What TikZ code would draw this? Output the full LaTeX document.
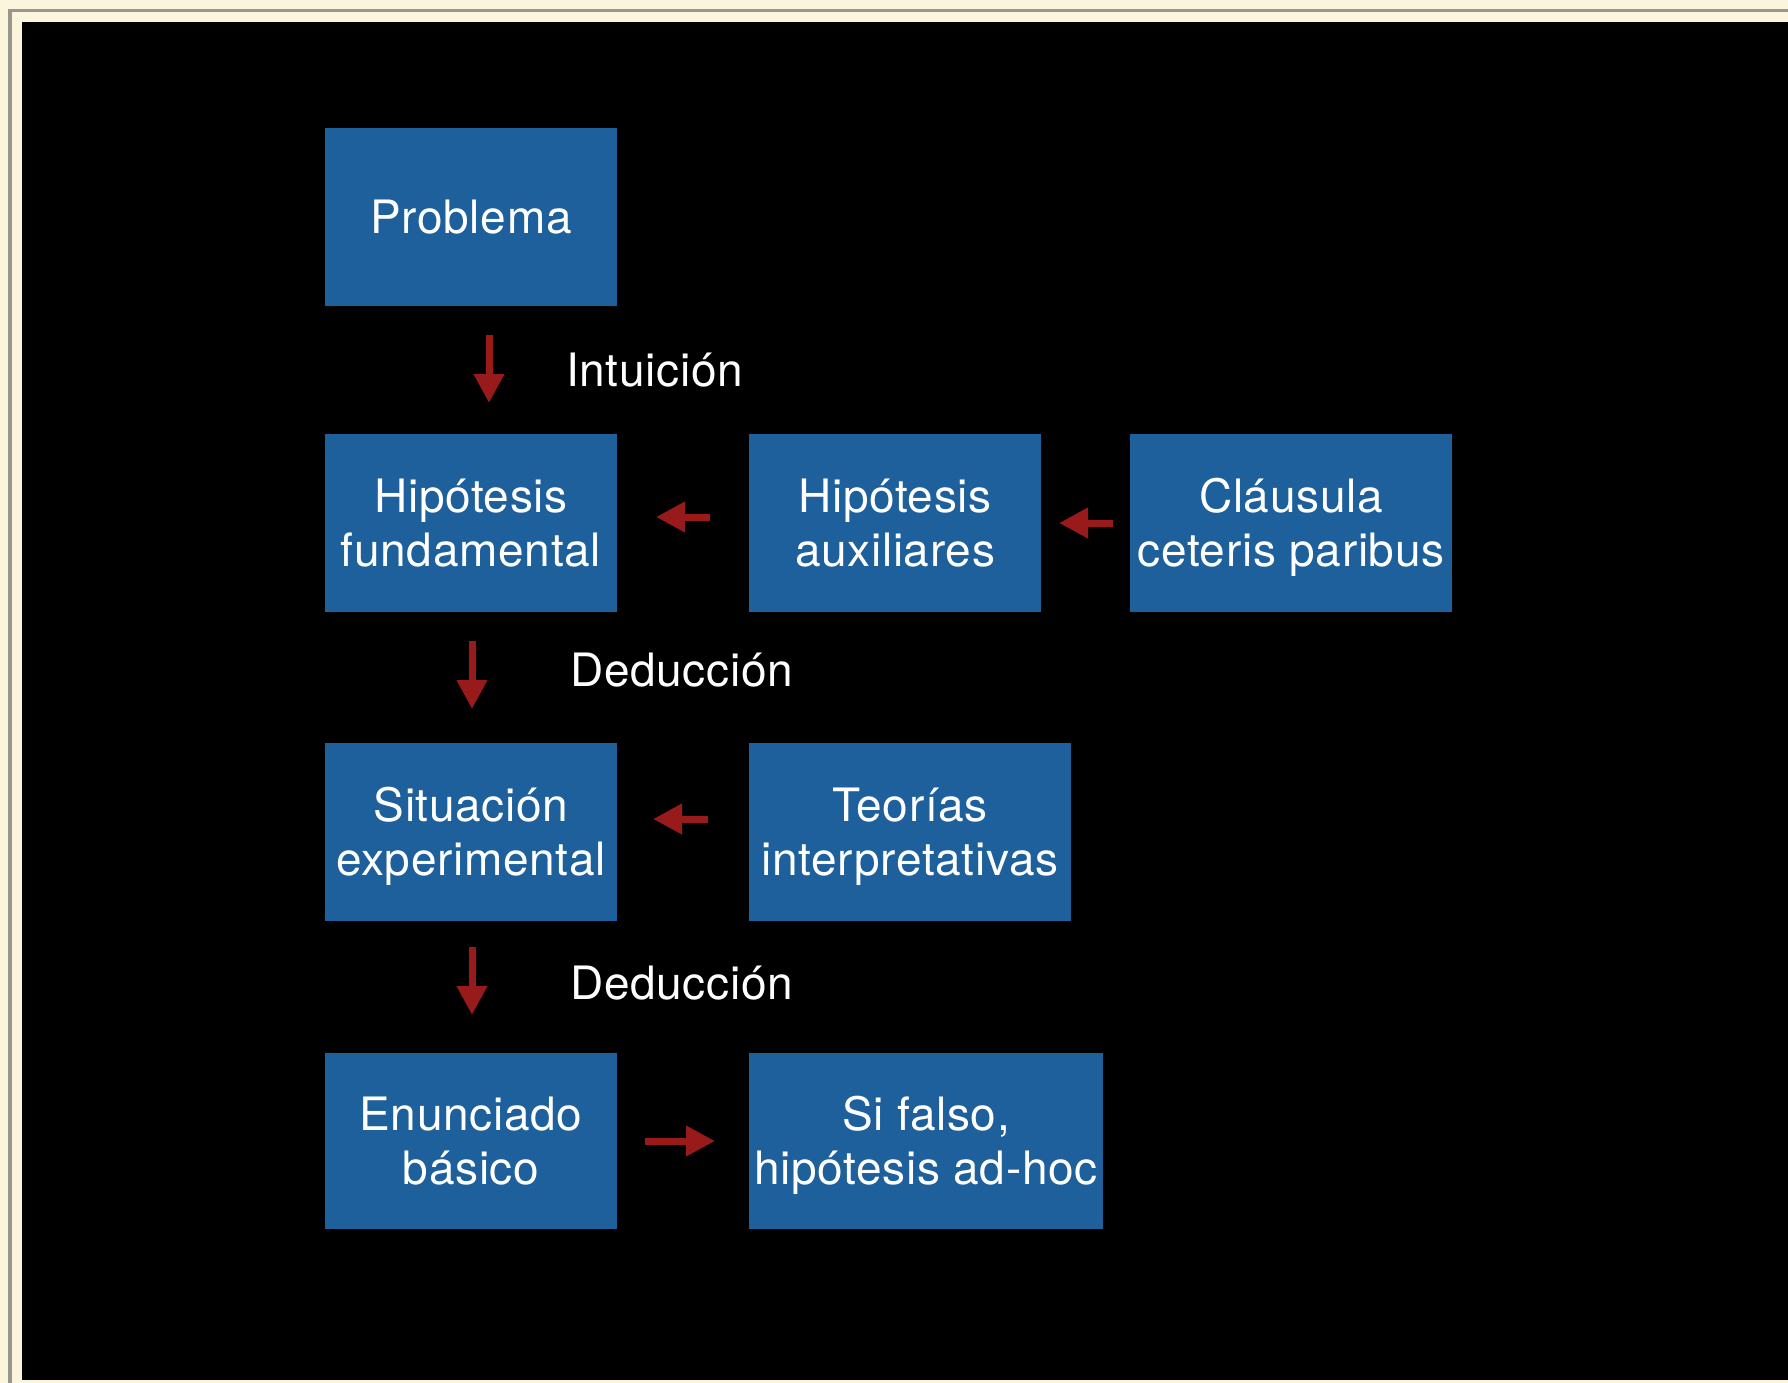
\documentclass[tikz,border=0pt]{standalone}
\usepackage{fontspec}
\setmainfont{TeX Gyre Heros}[LetterSpace=1.5]
\usetikzlibrary{arrows.meta}
\definecolor{paper}{RGB}{251,245,222}
\definecolor{framegray}{RGB}{152,150,144}
\definecolor{boxblue}{RGB}{30,96,155}
\definecolor{arrowred}{RGB}{152,26,26}
\begin{document}
\begin{tikzpicture}[x=1pt,y=-1pt,
  blk/.style={fill=boxblue, inner sep=0pt, outer sep=0pt},
  txt/.style={text=white, font=\fontsize{46}{54}\selectfont, inner sep=0pt, anchor=base},
  lbl/.style={text=white, font=\fontsize{46}{54}\selectfont, inner sep=0pt, anchor=base west},
  arr/.style={draw=arrowred, line width=7pt, -{Triangle[length=29pt,width=29pt]}}]
\useasboundingbox (0,0) rectangle (1788,1383);
% mat and frame
\fill[paper] (0,0) rectangle (1788,1383);
\fill[framegray] (8,9) rectangle (1788,12);
\fill[framegray] (8,9) rectangle (12,1383);
\fill[black] (22,22) rectangle (1788,1380);

% boxes
\node[blk, minimum width=292pt, minimum height=178pt] (prob)  at (471,217) {};
\node[blk, minimum width=292pt, minimum height=178pt] (hfun)  at (471,523) {};
\node[blk, minimum width=292pt, minimum height=178pt] (haux)  at (895,523) {};
\node[blk, minimum width=322pt, minimum height=178pt] (clau)  at (1291,523) {};
\node[blk, minimum width=292pt, minimum height=178pt] (sit)   at (471,832) {};
\node[blk, minimum width=322pt, minimum height=178pt] (teo)   at (910,832) {};
\node[blk, minimum width=292pt, minimum height=176pt] (enun)  at (471,1141) {};
\node[blk, minimum width=354pt, minimum height=176pt] (sifal) at (926,1141) {};

% box texts
\node[txt] (tprob) at ([yshift=-16.5pt]prob.center) {Problema};
\node[txt] (thfun1) at ([yshift=10.5pt]hfun.center) {Hipótesis};
\node[txt] (thfun2) at ([yshift=-43.5pt]hfun.center) {fundamental};
\node[txt] (thaux1) at ([yshift=10.5pt]haux.center) {Hipótesis};
\node[txt] (thaux2) at ([yshift=-43.5pt]haux.center) {auxiliares};
\node[txt] (tclau1) at ([yshift=10.5pt]clau.center) {Cláusula};
\node[txt] (tclau2) at ([yshift=-43.5pt]clau.center) {ceteris paribus};
\node[txt] (tsit1) at ([yshift=10.5pt]sit.center) {Situación};
\node[txt] (tsit2) at ([yshift=-43.5pt]sit.center) {experimental};
\node[txt] (tteo1) at ([yshift=10.5pt]teo.center) {Teorías};
\node[txt] (tteo2) at ([yshift=-43.5pt]teo.center) {interpretativas};
\node[txt] (tenun1) at ([yshift=10.5pt]enun.center) {Enunciado};
\node[txt] (tenun2) at ([yshift=-43.5pt]enun.center) {básico};
\node[txt] (tsif1) at ([yshift=10.5pt]sifal.center) {Si falso,};
\node[txt] (tsif2) at ([yshift=-43.5pt]sifal.center) {hipótesis ad-hoc};

% step labels
\node[lbl] (lint) at (566,386) {Intuición};
\node[lbl] (lded1) at (570,686) {Deducción};
\node[lbl] (lded2) at (570,999) {Deducción};

% arrow end points in the gaps between boxes
\coordinate (a1s) at (489,335);  \coordinate (a1e) at (489,403);
\coordinate (a2s) at (472,641);  \coordinate (a2e) at (472,709);
\coordinate (a3s) at (472,947);  \coordinate (a3e) at (472,1015);
\coordinate (a4s) at (710,517);  \coordinate (a4e) at (656,517);
\coordinate (a5s) at (1113,523); \coordinate (a5e) at (1059,523);
\coordinate (a6s) at (708,819);  \coordinate (a6e) at (653,819);
\coordinate (a7s) at (645,1141); \coordinate (a7e) at (715,1141);

\draw[arr] (a1s) -- (a1e);
\draw[arr] (a2s) -- (a2e);
\draw[arr] (a3s) -- (a3e);
\draw[arr] (a4s) -- (a4e);
\draw[arr] (a5s) -- (a5e);
\draw[arr] (a6s) -- (a6e);
\draw[arr] (a7s) -- (a7e);
\end{tikzpicture}
\end{document}
